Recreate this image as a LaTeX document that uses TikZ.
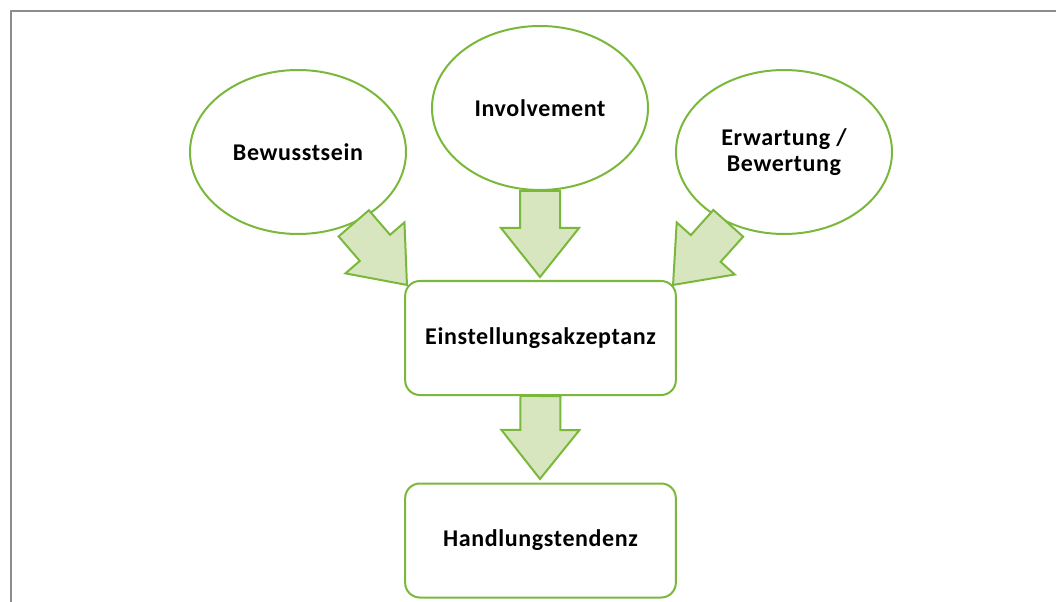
\documentclass[tikz,border=0pt]{standalone}
\usepackage{fontspec}
\setmainfont{Carlito}[LetterSpace=2.6]
\usepackage{tikz}
\usetikzlibrary{calc,shapes.geometric}

\definecolor{leafgreen}{RGB}{122,184,60}
\definecolor{palegreen}{RGB}{215,230,190}
\definecolor{framegray}{RGB}{140,140,140}

% broad arrow from #1 to #2
\newcommand{\blockarrow}[2]{%
\draw[flowarrow] let \p1=(#1), \p2=(#2), \n1={atan2(\y2-\y1,\x2-\x1)}, \n2={veclen(\x2-\x1,\y2-\y1)} in
 [shift={(\p1)},rotate=\n1] (0pt,-15pt) -- ({\n2-36.75pt},-15pt) -- ({\n2-36.75pt},-29.25pt) -- (\n2,0pt)
 -- ({\n2-36.75pt},29.25pt) -- ({\n2-36.75pt},15pt) -- (0pt,15pt) -- cycle;}

\begin{document}
\begin{tikzpicture}[line join=round,x=0.75pt,y=-0.75pt,
  factor/.style={ellipse,draw=leafgreen,line width=1.5pt,fill=white,minimum width=162pt,minimum height=123pt,inner sep=0pt,align=center,font=\fontsize{18}{19.5}\selectfont\bfseries},
  stage/.style={rectangle,rounded corners=11pt,draw=leafgreen,line width=1.5pt,fill=white,minimum width=203pt,minimum height=85.5pt,inner sep=0pt,font=\fontsize{18}{19.5}\selectfont\bfseries},
  flowarrow/.style={draw=leafgreen,fill=palegreen,line width=1.5pt,line join=miter}]
\useasboundingbox (0,0) rectangle (1056,602);
\draw[framegray,line width=2pt] (11,602) -- (11,11) -- (1056,11);
\node[factor] (bew) at (298,152) {Bewusstsein};
\node[factor] (inv) at (540,108) {Involvement};
\node[factor] (erw) at (784,152) {Erwartung /\\Bewertung};
\node[stage] (akz) at (540.5,338) {Einstellungsakzeptanz};
\node[stage] (hdl) at (540.5,540.5) {Handlungstendenz};
\coordinate (tipL) at (407,285);
\coordinate (tipM) at (540,277);
\coordinate (tipR) at (673,285);
\coordinate (tipD) at (540,479);
\blockarrow{bew.-52}{tipL}
\blockarrow{inv.south}{tipM}
\blockarrow{erw.-128}{tipR}
\blockarrow{akz.south}{tipD}
\end{tikzpicture}
\end{document}
